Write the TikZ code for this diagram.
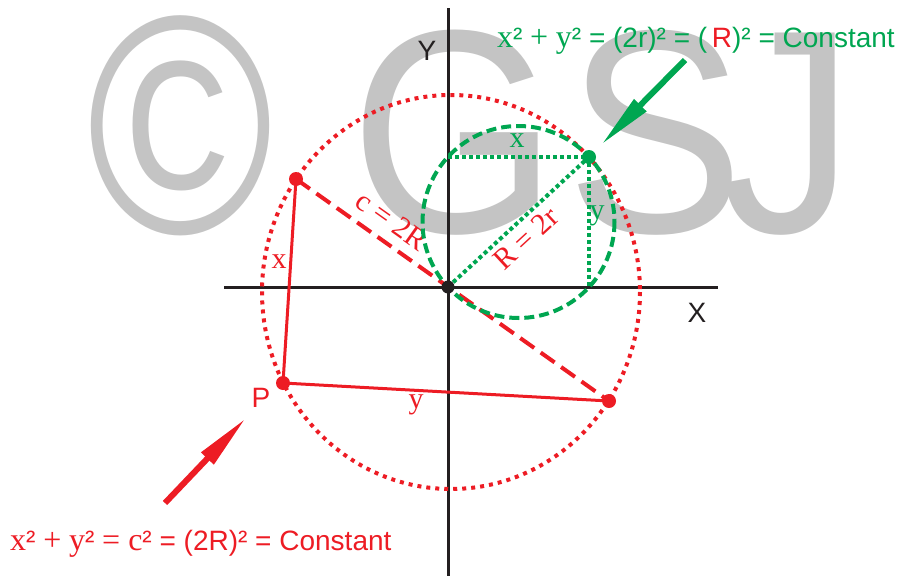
\documentclass[tikz,border=0pt]{standalone}
\usepackage{fontspec}
\setmainfont{Liberation Sans}
\newfontfamily\tms{Liberation Serif}
\usepackage{xcolor}
\usepackage{tikz}
\usetikzlibrary{arrows.meta}
\definecolor{gsjRed}{HTML}{ED1C24}
\definecolor{gsjGreen}{HTML}{00A651}
\definecolor{gsjInk}{HTML}{231F20}
\definecolor{gsjMark}{HTML}{C4C4C4}

\begin{document}
\begin{tikzpicture}[x=1pt,y=-1pt,
  axis/.style={gsjInk,line width=3pt},
  rdots/.style={gsjRed,line width=4pt,dash pattern=on 4pt off 5pt},
  rdash/.style={gsjRed,line width=4pt,dash pattern=on 17pt off 8pt},
  rside/.style={gsjRed,line width=3pt},
  gdash/.style={gsjGreen,line width=4pt,dash pattern=on 10pt off 5pt},
  gdots/.style={gsjGreen,line width=4pt,dash pattern=on 4pt off 3pt},
  pointer/.style={line width=6pt,-{Triangle[length=56pt,width=16pt]}},
  lbl/.style={font=\fontsize{28}{30}\selectfont},
  tlbl/.style={font=\fontsize{30}{32}\selectfont\tms},
  markglyph/.style={anchor=base,text=gsjMark,xscale=0.92,inner sep=0,
    font=\fontsize{290}{290}\selectfont}]
\useasboundingbox (0,0) rectangle (898,576);
% watermark
\node[markglyph,font=\fontsize{312}{312}\selectfont,xscale=0.88] (markc) at (181,233) {\copyright};
\node[markglyph] (markg) at (454,232) {G};
\node[markglyph] (marks) at (655,232) {S};
\node[markglyph] (markj) at (788,232) {J};
% axes
\coordinate (O) at (448,287);
\coordinate (ytop) at (448,8); \coordinate (ybot) at (448,576);
\coordinate (xlft) at (224,287); \coordinate (xrgt) at (718,287);
\draw[axis] (ytop) -- (ybot);
\draw[axis] (xlft) -- (xrgt);
\node[lbl,text=gsjInk] (Ylab) at (427,51) {Y};
\node[lbl,text=gsjInk] (Xlab) at (697,313) {X};
% big circle, c = 2R
\coordinate (A) at (296,179);
\coordinate (B) at (609,401);
\coordinate (P) at (283,383);
\draw[rdots] (451,292) ellipse [x radius=189, y radius=197];
\draw[rdash] (A) -- (B);
\draw[rside] (A) -- (P) -- (B);
\path (A) -- (O) node[pos=0.55,sloped,above,tlbl,text=gsjRed,inner sep=11pt] (clab) {c = 2R};
\node[tlbl,text=gsjRed] (xr) at (279,262) {x};
\node[tlbl,text=gsjRed] (yr) at (416,405) {y};
\node[lbl,text=gsjRed] (Plab) at (261,398) {P};
% small circle, R = 2r
\coordinate (G) at (589,157);
\coordinate (Gy) at (448,157);
\coordinate (Gx) at (589,287);
\draw[gdash] (518.5,222) circle (96);
\draw[gdots] (Gy) -- (G) -- (Gx);
\draw[gdots] (O) -- (G);
\path (O) -- (G) node[pos=0.47,sloped,below,tlbl,text=gsjRed,inner sep=7pt] (Rlab) {R = 2r};
\node[tlbl,text=gsjGreen] (xg) at (517,141) {x};
\node[tlbl,text=gsjGreen] (yg) at (597,216) {y};
% dots
\fill[gsjRed] (A) circle (7) (B) circle (7) (P) circle (7);
\fill[gsjGreen] (G) circle (7);
\fill[gsjInk] (O) circle (6.5);
% pointers
\coordinate (rtail) at (165,503); \coordinate (rtip) at (246,418);
\coordinate (gtail) at (685,60); \coordinate (gtip) at (601,145);
\draw[pointer,gsjRed] (rtail) -- (rtip);
\draw[pointer,gsjGreen] (gtail) -- (gtip);
% laws
\node[lbl,text=gsjGreen,anchor=base east,inner sep=0] (glaw) at (895,47)
  {{\tms\fontsize{32}{34}\selectfont x}² {\tms\fontsize{32}{34}\selectfont +} {\tms\fontsize{32}{34}\selectfont y}² = (2r)² = (\,\textcolor{gsjRed}{R})² = Constant};
\node[lbl,text=gsjRed,anchor=base west,inner sep=0] (rlaw) at (10,550)
  {{\tms\fontsize{32}{34}\selectfont x}² {\tms\fontsize{32}{34}\selectfont +} {\tms\fontsize{32}{34}\selectfont y}² {\tms\fontsize{32}{34}\selectfont = c}² = (2R)² = Constant};
\end{tikzpicture}
\end{document}
